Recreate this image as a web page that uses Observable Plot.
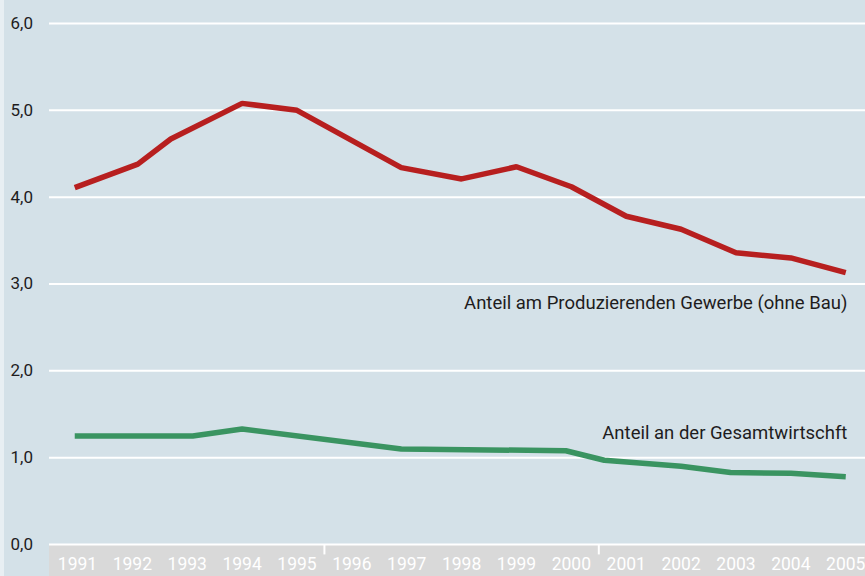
<!DOCTYPE html>
<html>
<head>
<meta charset="utf-8">
<script src="https://cdn.jsdelivr.net/npm/d3@7"></script>
<script src="https://cdn.jsdelivr.net/npm/@observablehq/plot@0.6"></script>
<style>
  html, body { margin: 0; padding: 0; background: #e8eff3; overflow: hidden; }
  #chart { margin-left: 4px; width: 861px; height: 576px; }
  #chart svg { display: block; }
</style>
</head>
<body>
<div id="chart"></div>
<script>
// Red series: Anteil am Produzierenden Gewerbe (ohne Bau)
const redYears  = [1990.95, 1992.1, 1992.7, 1994, 1995, 1996.9, 1998, 1999, 2000, 2001, 2002, 2003, 2004, 2005];
const redValues = [4.11, 4.38, 4.67, 5.08, 5.00, 4.34, 4.21, 4.35, 4.12, 3.78, 3.63, 3.36, 3.30, 3.13];

// Green series: Anteil an der Gesamtwirtschaft
const greenYears  = [1990.95, 1993.1, 1994, 1996.9, 1999.9, 2000.6, 2002, 2002.9, 2004, 2005];
const greenValues = [1.25, 1.25, 1.33, 1.10, 1.08, 0.97, 0.90, 0.83, 0.82, 0.78];

// Axis labels
const xTickYears = [1991, 1992, 1993, 1994, 1995, 1996, 1997, 1998, 1999, 2000, 2001, 2002, 2003, 2004, 2005];
const xSeparators = [1995.5, 2000.5];
const yTicks = [0, 1, 2, 3, 4, 5, 6];

// Series labels
const seriesLabels = ["Anteil am Produzierenden Gewerbe (ohne Bau)", "Anteil an der Gesamtwirtschft"];
const labelYears = [2005.03, 2005.03];
const labelValues = [2.78, 1.28];

const xDomain = [1990.49, 2005.36];

const red = redYears.map((y, i) => ({year: y, value: redValues[i]}));
const green = greenYears.map((y, i) => ({year: y, value: greenValues[i]}));
const labels = seriesLabels.map((t, i) => ({text: t, year: labelYears[i], value: labelValues[i]}));

const chart = Plot.plot({
  width: 861,
  height: 576,
  marginLeft: 45,
  marginRight: 0,
  marginTop: 23,
  marginBottom: 32,
  x: {domain: xDomain},
  y: {domain: [0, 6]},
  style: {background: "#d4e1e8", fontFamily: "Roboto, 'DejaVu Sans', sans-serif", overflow: "hidden"},
  marks: [
    Plot.rect([0], {x1: xDomain[0], x2: xDomain[1], y1: 0, y2: -0.45, fill: "#d9d9d9"}),
    Plot.ruleY(yTicks, {stroke: "white", strokeWidth: 2}),
    Plot.ruleX(xSeparators, {y1: 0, y2: -0.12, stroke: "white", strokeWidth: 2}),
    Plot.axisY({ticks: yTicks, tickFormat: d => d.toFixed(1).replace(".", ","), tickSize: 0, tickPadding: 39, textAnchor: "start", fontSize: 17, fill: "#1e1c1d", label: null, style: {letterSpacing: "0.7px"}}),
    Plot.axisX({ticks: xTickYears, tickFormat: d => String(d), tickSize: 0, tickPadding: 13, fontSize: 17.5, fill: "white", label: null, style: {letterSpacing: "0.3px"}}),
    Plot.line(red, {x: "year", y: "value", stroke: "#b71f1f", strokeWidth: 5.5, strokeLinejoin: "miter", strokeLinecap: "butt"}),
    Plot.line(green, {x: "year", y: "value", stroke: "#3a9461", strokeWidth: 5.5, strokeLinejoin: "miter", strokeLinecap: "butt"}),
    Plot.text(labels, {x: "year", y: "value", text: "text", textAnchor: "end", fontSize: 18.5, fill: "#1e1c1d", style: {letterSpacing: "0.3px"}})
  ]
});
document.getElementById("chart").appendChild(chart);
</script>
</body>
</html>
